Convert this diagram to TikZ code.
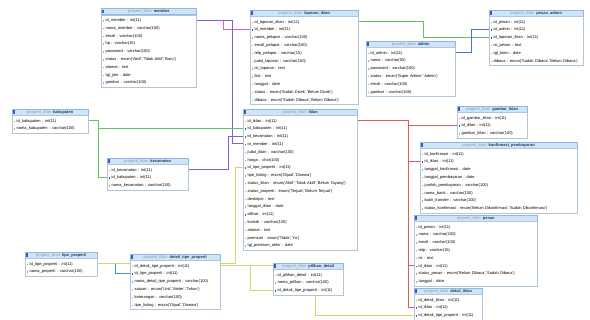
\documentclass[tikz,border=0pt]{standalone}
\usepackage{fontspec}
\setmainfont{Liberation Sans}
\usetikzlibrary{backgrounds}

\definecolor{hdrfill}{HTML}{CFE5F7}
\definecolor{hdrline}{HTML}{8DB9E2}
\definecolor{hdrtext}{HTML}{1F3B5C}
\definecolor{prefc}{HTML}{8A9BB0}
\definecolor{bodyline}{HTML}{AFC6DE}
\definecolor{keyc}{HTML}{D9A521}
\definecolor{fkc}{HTML}{3F55C9}
\definecolor{nfc}{HTML}{A8A8A8}
\definecolor{lnmag}{HTML}{E55BC9}
\definecolor{lnpur}{HTML}{8E5BD8}
\definecolor{lnblue}{HTML}{4C6FE0}
\definecolor{lngreen}{HTML}{5CC75C}
\definecolor{lnyel}{HTML}{D4D86A}
\definecolor{lnteal}{HTML}{3A96D2}
\definecolor{lnred}{HTML}{E05A5A}

% one row of a table: icon + text, fixed height
\newcommand{\rowstrut}{\rule[-2.3pt]{0pt}{7.8pt}}
\newcommand{\pk}[1]{\mbox{\rowstrut\textcolor{keyc}{\rule{1.5pt}{1.5pt}}\hspace{1.5pt}#1}}
\newcommand{\fk}[1]{\mbox{\rowstrut\textcolor{fkc}{\rule{1.5pt}{1.5pt}}\hspace{1.5pt}#1}}
\newcommand{\nf}[1]{\mbox{\rowstrut\textcolor{nfc}{\rule{1.5pt}{1.5pt}}\hspace{1.5pt}#1}}

% table: name, top left of header, width, title, rows
\newcommand{\dbtable}[5]{%
  \node[tblhead,minimum width=#3pt] (#1) at (#2)
    {\textcolor{prefc}{properti\_iklan}\hspace{2pt}\textbf{#4}};
  \node[tblbody,text width={\dimexpr#3pt-3pt\relax}] (#1-b) at (#1.south west) {#5};
}

\begin{document}
\begin{tikzpicture}[x=1pt,y=-1pt,
tblhead/.style={draw=hdrline,fill=hdrfill,anchor=north west,minimum height=6pt,inner sep=0pt,
  text=hdrtext,font=\fontsize{4}{5}\selectfont,
  label={[anchor=west,inner sep=0pt,xshift=1pt]west:{\textcolor{fkc}{\rule{2pt}{3.5pt}}}}},
tblbody/.style={draw=bodyline,fill=white,anchor=north west,inner xsep=1.5pt,inner ysep=1pt,
  align=left,font=\fontsize{4}{7.8}\selectfont},
atrow/.style={yshift={-(7.8*#1-2.9)*1pt}},
fkline/.style={line width=0.5pt}]

\useasboundingbox (0,0) rectangle (590,320);

\dbtable{member}{101,8.5}{95}{member}{%
\pk{id\_member : int(11)}\\
\nf{nama\_member : varchar(100)}\\
\nf{email : varchar(100)}\\
\nf{hp : varchar(15)}\\
\nf{password : varchar(100)}\\
\nf{status : enum('Aktif','Tidak Aktif','Baru')}\\
\nf{alamat : text}\\
\nf{tgl\_join : date}\\
\nf{gambar : varchar(100)}}

\dbtable{laporan}{250,10}{108}{laporan\_iklan}{%
\pk{id\_laporan\_iklan : int(11)}\\
\fk{id\_member : int(11)}\\
\nf{nama\_pelapor : varchar(100)}\\
\nf{email\_pelapor : varchar(100)}\\
\nf{telp\_pelapor : varchar(15)}\\
\nf{judul\_laporan : varchar(100)}\\
\nf{isi\_laporan : text}\\
\nf{link : text}\\
\nf{tanggal : date}\\
\nf{status : enum('Sudah Dicek','Belum Dicek')}\\
\nf{dibaca : enum('Sudah Dibaca','Belum Dibaca')}}

\dbtable{admin}{366,41}{89}{admin}{%
\pk{id\_admin : int(11)}\\
\nf{nama : varchar(50)}\\
\nf{password : varchar(100)}\\
\nf{status : enum('Super Admin','Admin')}\\
\nf{email : varchar(100)}\\
\nf{gambar : varchar(100)}}

\dbtable{padmin}{489,10}{94}{pesan\_admin}{%
\pk{id\_pesan : int(11)}\\
\fk{id\_admin : int(11)}\\
\fk{id\_laporan\_iklan : int(11)}\\
\nf{isi\_pesan : text}\\
\nf{tgl\_kirim : date}\\
\nf{dibaca : enum('Sudah Dibaca','Belum Dibaca')}}

\dbtable{kab}{12,109}{76}{kabupaten}{%
\pk{id\_kabupaten : int(11)}\\
\nf{nama\_kabupaten : varchar(100)}}

\dbtable{kec}{107,158}{81}{kecamatan}{%
\pk{id\_kecamatan : int(11)}\\
\fk{id\_kabupaten : int(11)}\\
\nf{nama\_kecamatan : varchar(100)}}

\dbtable{iklan}{243,109}{114}{iklan}{%
\pk{id\_iklan : int(11)}\\
\fk{id\_kabupaten : int(11)}\\
\fk{id\_kecamatan : int(11)}\\
\fk{id\_member : int(11)}\\
\nf{judul\_iklan : varchar(100)}\\
\nf{harga : char(100)}\\
\fk{id\_tipe\_properti : int(11)}\\
\nf{tipe\_listing : enum('Dijual','Disewa')}\\
\nf{status\_iklan : enum('Aktif','Tidak Aktif','Belum Tayang')}\\
\nf{status\_properti : enum('Terjual','Belum Terjual')}\\
\nf{deskripsi : text}\\
\nf{tanggal\_iklan : date}\\
\fk{dilihat : int(11)}\\
\nf{kontak : varchar(100)}\\
\nf{alamat : text}\\
\nf{premium : enum('Tidak','Ya')}\\
\nf{tgl\_premium\_akhir : date}}

\dbtable{gambar}{457,106}{70}{gambar\_iklan}{%
\pk{id\_gambar\_iklan : int(11)}\\
\fk{id\_iklan : int(11)}\\
\nf{gambar\_iklan : varchar(100)}}

\dbtable{konf}{420,142}{157}{konfirmasi\_pembayaran}{%
\pk{id\_konfirmasi : int(11)}\\
\fk{id\_iklan : int(11)}\\
\nf{tanggal\_konfirmasi : date}\\
\nf{tanggal\_pembayaran : date}\\
\nf{jumlah\_pembayaran : varchar(100)}\\
\nf{nama\_bank : varchar(100)}\\
\nf{bukti\_transfer : varchar(100)}\\
\nf{status\_konfirmasi : enum('Belum Dikonfirmasi','Sudah Dikonfirmasi')}}

\dbtable{pesan}{414,215}{123}{pesan}{%
\pk{id\_pesan : int(11)}\\
\nf{nama : varchar(100)}\\
\nf{email : varchar(100)}\\
\nf{telp : varchar(15)}\\
\nf{isi : text}\\
\fk{id\_iklan : int(11)}\\
\nf{status\_pesan : enum('Belum Dibaca','Sudah Dibaca')}\\
\nf{tanggal : date}}

\dbtable{detail}{414,288}{68}{detail\_iklan}{%
\pk{id\_detail\_iklan : int(11)}\\
\fk{id\_iklan : int(11)}\\
\fk{id\_detail\_tipe\_properti : int(11)}}

\dbtable{tipe}{25,252}{72}{tipe\_properti}{%
\pk{id\_tipe\_properti : int(11)}\\
\nf{nama\_properti : varchar(100)}}

\dbtable{dtipe}{130,254}{90}{detail\_tipe\_properti}{%
\pk{id\_detail\_tipe\_properti : int(11)}\\
\fk{id\_tipe\_properti : int(11)}\\
\nf{nama\_detail\_tipe\_properti : varchar(100)}\\
\nf{satuan : enum('Unit','Meter','Tahun')}\\
\nf{keterangan : varchar(100)}\\
\nf{tipe\_listing : enum('Dijual','Disewa')}}

\dbtable{pilihan}{273,263}{70}{pilihan\_detail}{%
\pk{id\_pilihan\_detail : int(11)}\\
\nf{nama\_pilihan : varchar(100)}\\
\fk{id\_detail\_tipe\_properti : int(11)}}

% relations, behind the tables
\begin{scope}[on background layer,fkline]
\fill[white] (0,0) rectangle (590,320);
\draw[lnmag] ([atrow=1]member-b.north east) -- ++(27,0) |- ([atrow=2]laporan-b.north west);
\draw[lnpur] ([atrow=1]member-b.north east) -- ++(36,0) |- ([atrow=4]iklan-b.north west);
\draw[lngreen] ([atrow=1]laporan-b.north east) -- ++(65,0) |- ([atrow=3]padmin-b.north west);
\draw[lnblue] ([atrow=1]admin-b.north east) -- ++(16,0) |- ([atrow=2]padmin-b.north west);
\draw[lngreen] ([atrow=1]kab-b.north east) -- ++(10,0) coordinate (kabx) |- ([atrow=2]kec-b.north west);
\draw[lngreen] (kabx) |- ([atrow=2]iklan-b.north west);
\draw[lnpur] ([atrow=1]kec-b.north east) -- ++(40,0) |- ([atrow=3]iklan-b.north west);
\draw[lnteal] ([atrow=1]tipe-b.north east) -- ++(18,0) |- ([atrow=2]dtipe-b.north west);
\draw[lnyel] ([atrow=1]tipe-b.north east) -- ++(138,0) |- ([atrow=7]iklan-b.north west);
\draw[lnyel] ([atrow=1]dtipe-b.north east) -- ++(95,0) |- ([atrow=3]detail-b.north west);
\draw[lnyel] ([atrow=1]dtipe-b.north east) -- ++(30,0) |- ([atrow=3]pilihan-b.north west);
\draw[lnred] ([atrow=1]iklan-b.north east) -- ++(51,0) coordinate (redx) |- ([atrow=2]detail-b.north west);
\draw[lnred] (redx) |- ([atrow=2]gambar-b.north west);
\draw[lnred] (redx) |- ([atrow=2]konf-b.north west);
\draw[lnred] (redx) |- ([atrow=6]pesan-b.north west);
\end{scope}
\end{tikzpicture}
\end{document}
